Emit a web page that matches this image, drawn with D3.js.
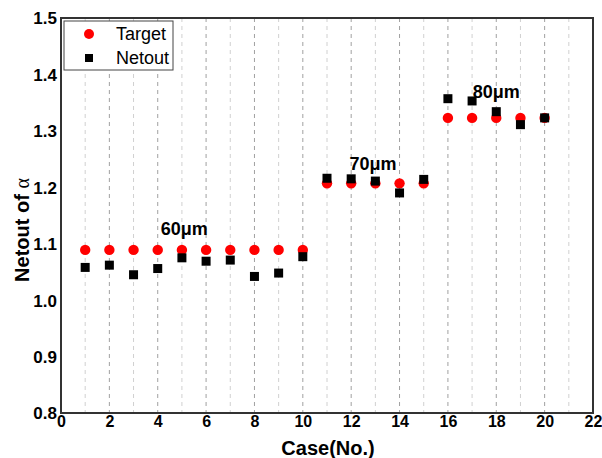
<!DOCTYPE html>
<html>
<head>
<meta charset="utf-8">
<script src="https://cdn.jsdelivr.net/npm/d3@7"></script>
<style>
  body { margin: 0; background: #fff; }
  text { font-family: "Liberation Sans", Arial, sans-serif; }
</style>
</head>
<body>
<svg id="svg" width="602" height="458"></svg>
<script>
const cases = [1, 2, 3, 4, 5, 6, 7, 8, 9, 10, 11, 12, 13, 14, 15, 16, 17, 18, 19, 20];
const target = [1.089, 1.089, 1.089, 1.089, 1.089, 1.089, 1.089, 1.089, 1.089, 1.089,
  1.207, 1.207, 1.207, 1.207, 1.207, 1.323, 1.323, 1.323, 1.323, 1.323];
const netout = [1.058, 1.062, 1.045, 1.056, 1.075, 1.069, 1.071, 1.042, 1.048, 1.077,
  1.216, 1.215, 1.211, 1.19, 1.214, 1.357, 1.353, 1.334, 1.311, 1.323];
const xTicks = [0, 2, 4, 6, 8, 10, 12, 14, 16, 18, 20, 22];
const yTicks = [0.8, 0.9, 1.0, 1.1, 1.2, 1.3, 1.4, 1.5];
const labels = [
  { text: "60μm", x: 5.1, y: 1.127 },
  { text: "70μm", x: 12.9, y: 1.242 },
  { text: "80μm", x: 18.0, y: 1.37 }
];

let container = d3.select("#svg");
const pLeft = 61, pRight = 593, pTop = 18, pBottom = 413;

let xScale = d3.scaleLinear().domain([0, 22]).range([pLeft, pRight]);
let yScale = d3.scaleLinear().domain([0.8, 1.5]).range([pBottom, pTop]);

// vertical grid, dashed
container.append("g")
  .selectAll("line")
  .data(d3.range(1, 22))
  .enter()
  .append("line")
  .attr("x1", (d) => xScale(d))
  .attr("x2", (d) => xScale(d))
  .attr("y1", pTop)
  .attr("y2", pBottom)
  .attr("stroke", (d) => (d % 2 === 0 ? "#a0a0a0" : "#d0d0d0"))
  .attr("stroke-width", 1)
  .attr("stroke-dasharray", "4,4");

// frame
container.append("rect")
  .attr("x", pLeft)
  .attr("y", pTop)
  .attr("width", pRight - pLeft)
  .attr("height", pBottom - pTop)
  .attr("fill", "none")
  .attr("stroke", "#333")
  .attr("stroke-width", 2);

// axes (labels only)
let xAxis = container.append("g")
  .attr("transform", "translate(0," + pBottom + ")")
  .call(d3.axisBottom(xScale).tickValues(xTicks).tickSize(0).tickPadding(3));
let yAxis = container.append("g")
  .attr("transform", "translate(" + pLeft + ",0)")
  .call(d3.axisLeft(yScale).tickValues(yTicks).tickFormat(d3.format(".1f")).tickSize(0).tickPadding(4));
[xAxis, yAxis].forEach((ax) => {
  ax.select(".domain").remove();
  ax.selectAll("text")
    .attr("fill", "#000")
    .style("font-family", "'Liberation Sans', Arial, sans-serif")
    .style("font-size", "16px")
    .style("font-weight", "bold");
});
yAxis.selectAll("text").attr("dy", "0.35em").style("font-size", "17px");

// axis titles
container.append("text")
  .attr("x", 328)
  .attr("y", 455)
  .attr("text-anchor", "middle")
  .style("font-size", "20px")
  .style("font-weight", "bold")
  .text("Case(No.)");

let yTitle = container.append("text")
  .attr("transform", "translate(29,230) rotate(-90)")
  .attr("text-anchor", "middle")
  .style("font-size", "20px");
yTitle.append("tspan").style("font-weight", "bold").text("Netout of ");
yTitle.append("tspan").style("font-family", "'Liberation Serif', serif").text("α");

// target points
container.append("g")
  .selectAll("circle")
  .data(cases)
  .enter()
  .append("circle")
  .attr("cx", (d) => xScale(d))
  .attr("cy", (d, i) => yScale(target[i]))
  .attr("r", 5.2)
  .attr("fill", "#ff0000");

// netout points
container.append("g")
  .selectAll("rect")
  .data(cases)
  .enter()
  .append("rect")
  .attr("x", (d) => xScale(d) - 4.5)
  .attr("y", (d, i) => yScale(netout[i]) - 4.5)
  .attr("width", 9)
  .attr("height", 9)
  .attr("fill", "#000");

// group labels
container.append("g")
  .selectAll("text")
  .data(labels)
  .enter()
  .append("text")
  .attr("x", (d) => xScale(d.x))
  .attr("y", (d) => yScale(d.y))
  .attr("text-anchor", "middle")
  .attr("dy", "0.35em")
  .style("font-size", "18px")
  .style("font-weight", "bold")
  .text((d) => d.text);

// legend
let legend = container.append("g").attr("transform", "translate(64,21)");
legend.append("rect")
  .attr("width", 109)
  .attr("height", 49)
  .attr("fill", "#fff")
  .attr("stroke", "#444")
  .attr("stroke-width", 1);
legend.append("circle").attr("cx", 25).attr("cy", 13).attr("r", 5).attr("fill", "#ff0000");
legend.append("rect").attr("x", 21).attr("y", 33).attr("width", 8).attr("height", 8).attr("fill", "#000");
legend.append("text").attr("x", 52).attr("y", 13).attr("dy", "0.35em").style("font-size", "18px").text("Target");
legend.append("text").attr("x", 52).attr("y", 37).attr("dy", "0.35em").style("font-size", "18px").text("Netout");
</script>
</body>
</html>
